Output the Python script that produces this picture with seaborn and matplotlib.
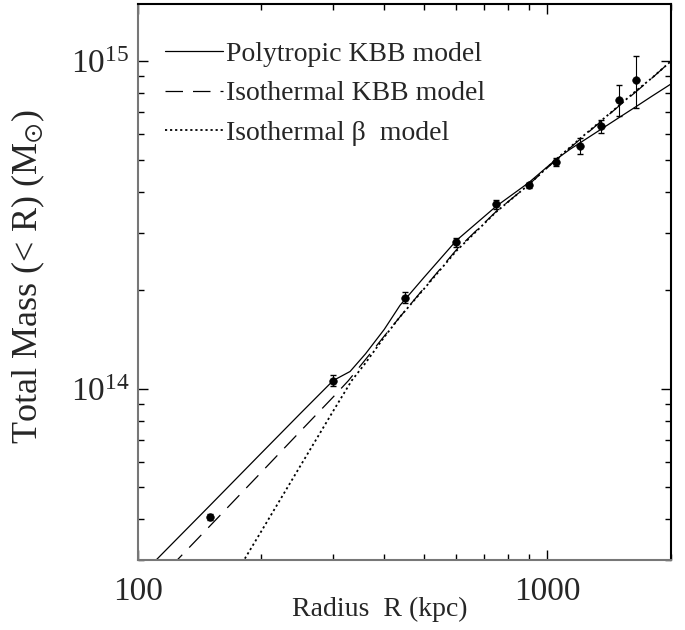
import numpy as np
import pandas as pd
import matplotlib
matplotlib.use('Agg')
import matplotlib.pyplot as plt
from matplotlib.ticker import FixedLocator, LogLocator, NullFormatter, FuncFormatter, LogFormatterMathtext
import seaborn as sns

# observed total mass profile (kpc, Msun)
radius_obs = [150, 300, 450, 600, 750, 900, 1050, 1200, 1350, 1500, 1650]
mass_obs = [4.06e13, 1.06e14, 1.90e14, 2.80e14, 3.66e14, 4.18e14, 4.93e14, 5.51e14, 6.34e14, 7.62e14, 8.8e14]
mass_err = [0.08e13, 0.04e14, 0.07e14, 0.08e14, 0.12e14, 0.08e14, 0.13e14, 0.31e14, 0.28e14, 0.83e14, 1.6e14]

# model curves
poly_r = [110, 150, 200, 250, 300, 330, 360, 400, 437, 500, 600, 750, 900, 1050, 1136, 1300, 1500, 1650, 1800, 2000]
poly_m = [2.97e13, 4.4e13, 6.35e13, 8.43e13, 1.06e14, 1.13e14, 1.28e14, 1.52e14, 1.80e14, 2.19e14, 2.84e14,
          3.61e14, 4.26e14, 5.02e14, 5.39e14, 6.01e14, 6.75e14, 7.29e14, 7.83e14, 8.52e14]

iso_kbb_r = [120, 150, 200, 250, 300, 327, 360, 400, 437, 500, 600, 750, 900, 1050, 1200, 1500, 1650, 1800, 2000]
iso_kbb_m = [2.85e13, 3.81e13, 5.55e13, 7.44e13, 9.44e13, 1.06e14, 1.23e14, 1.45e14, 1.66e14, 2.03e14, 2.66e14,
             3.48e14, 4.20e14, 5.0e14, 5.77e14, 7.33e14, 8.1e14, 8.89e14, 1.0e15]

iso_beta_r = [180, 200, 250, 300, 333, 360, 400, 437, 500, 600, 750, 900, 1050, 1200, 1500, 1650, 1800, 2000]
iso_beta_m = [2.94e13, 3.66e13, 5.84e13, 8.55e13, 1.06e14, 1.20e14, 1.44e14, 1.66e14, 2.02e14, 2.64e14,
              3.47e14, 4.20e14, 5.02e14, 5.8e14, 7.35e14, 8.15e14, 8.9e14, 1.0e15]

sns.set_style('ticks')
plt.rcParams['font.family'] = ['Liberation Serif', 'DejaVu Serif']
plt.rcParams['mathtext.fontset'] = 'stix'

fig = plt.figure(figsize=(6.85, 6.3), dpi=100)
ax = fig.add_axes([0.201, 0.111, 0.778, 0.883])

sns.lineplot(x=poly_r, y=poly_m, ax=ax, color='black', lw=0.9, label='Polytropic KBB model')
sns.lineplot(x=iso_kbb_r, y=iso_kbb_m, ax=ax, color='black', lw=0.9, linestyle=(0, (14, 8)),
             label='Isothermal KBB model')
sns.lineplot(x=iso_beta_r, y=iso_beta_m, ax=ax, color='black', lw=1.3, linestyle=(0, (1.2, 1.6)),
             label='Isothermal \u03b2  model')

ax.errorbar(radius_obs, mass_obs, yerr=mass_err, fmt='none', ecolor='black', elinewidth=0.8, capsize=2)
sns.scatterplot(x=radius_obs, y=mass_obs, ax=ax, color='black', s=30, edgecolor='black', zorder=5)

ax.set_xscale('log')
ax.set_yscale('log')
ax.set_xlim(100, 2000)
ax.set_ylim(3e13, 1.5e15)

ax.xaxis.set_major_locator(FixedLocator([100, 1000]))
ax.xaxis.set_major_formatter(FuncFormatter(lambda v, p: f'{int(v)}'))
ax.xaxis.set_minor_locator(LogLocator(base=10, subs=np.arange(2, 10)))
ax.xaxis.set_minor_formatter(NullFormatter())
ax.yaxis.set_major_locator(LogLocator(base=10))
ax.yaxis.set_major_formatter(LogFormatterMathtext())
ax.yaxis.set_minor_locator(LogLocator(base=10, subs=np.arange(2, 10)))
ax.yaxis.set_minor_formatter(NullFormatter())

ax.tick_params(which='both', direction='in', top=True, right=True, color='black', width=1.0)
ax.tick_params(which='major', length=7, labelsize=24)
ax.tick_params(which='minor', length=4)
ax.tick_params(axis='x', which='major', pad=12)
ax.tick_params(axis='y', which='major', pad=6)
for side in ['left', 'bottom']:
    ax.spines[side].set_color('#777777')
    ax.spines[side].set_linewidth(1.5)
for side in ['top', 'right']:
    ax.spines[side].set_color('black')
    ax.spines[side].set_linewidth(1.5)

ax.set_xlabel('Radius  R (kpc)', fontsize=20)
ax.xaxis.set_label_coords(0.455, -0.066)
ax.set_ylabel(r'Total Mass (< R) (M$_{\odot}$)', fontsize=26)
ax.yaxis.set_label_coords(-0.170, 0.509)

ax.legend(loc='upper left', bbox_to_anchor=(0.03, 0.952), frameon=False, fontsize=20,
          handlelength=2.1, handletextpad=0.1, labelspacing=0.5, borderaxespad=0)

fig.savefig('out.png', dpi=100)
